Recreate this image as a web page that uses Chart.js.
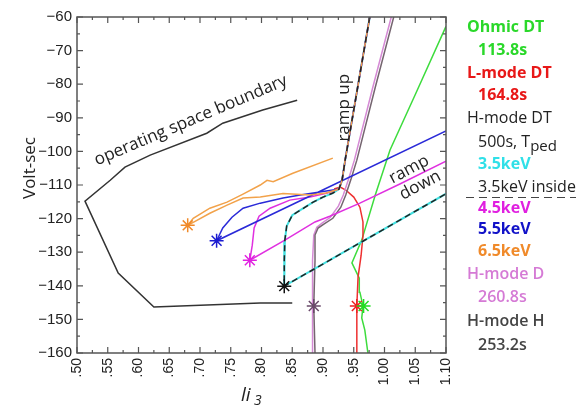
<!DOCTYPE html>
<html>
<head>
<meta charset="utf-8">
<script src="https://cdn.jsdelivr.net/npm/chart.js@4.4.0/dist/chart.umd.min.js"></script>
<style>
  html, body { margin: 0; padding: 0; background: #fff; }
  #wrap { position: relative; width: 587px; height: 405px; overflow: hidden; }
  #chart { position: absolute; left: 0; top: 0; }
  .leg { position: absolute; font-family: "Open Sans", sans-serif; font-size: 16px; line-height: 20px; white-space: nowrap; }
  .b { font-weight: 700; }
  .s { font-weight: 600; }
  .dash { padding-left: 12px; padding-bottom: 2px; background: repeating-linear-gradient(to right, #444 0 8px, transparent 8px 13px) left bottom / 100% 1.5px no-repeat; }
</style>
</head>
<body>
<div id="wrap">
  <canvas id="chart" width="587" height="405"></canvas>
  <div class="leg b" style="left:467px;top:16px;color:#2ad82a">Ohmic DT</div>
  <div class="leg b" style="left:478px;top:39px;color:#2ad82a">113.8s</div>
  <div class="leg b" style="left:467px;top:62px;color:#e81818">L-mode DT</div>
  <div class="leg b" style="left:478px;top:84px;color:#e81818">164.8s</div>
  <div class="leg" style="left:467px;top:107px;color:#222">H-mode DT</div>
  <div class="leg" style="left:478px;top:131px;color:#222">500s, T<span style="font-size:15px;position:relative;top:4px">ped</span></div>
  <div class="leg b" style="left:478px;top:153px;color:#30e0e8">3.5keV</div>
  <div class="leg dash" style="left:466px;top:176px;color:#222">3.5keV inside</div>
  <div class="leg b" style="left:478px;top:197px;color:#e020e0">4.5keV</div>
  <div class="leg b" style="left:478px;top:218px;color:#1212c8">5.5keV</div>
  <div class="leg b" style="left:478px;top:240px;color:#f08a2a">6.5keV</div>
  <div class="leg s" style="left:467px;top:263px;color:#d57ad5">H-mode D</div>
  <div class="leg s" style="left:478px;top:286px;color:#d57ad5">260.8s</div>
  <div class="leg s" style="left:467px;top:310px;color:#444">H-mode H</div>
  <div class="leg s" style="left:478px;top:334px;color:#444">253.2s</div>
</div>
<script>
const xTickLabels = [".50", ".55", ".60", ".65", ".70", ".75", ".80", ".85", ".90", ".95", "1.00", "1.05", "1.10"];
const yTickLabels = ["\u2212160", "\u2212150", "\u2212140", "\u2212130", "\u2212120", "\u2212110", "\u2212100", "\u221290", "\u221280", "\u221270", "\u221260"];

// operating space boundary
const boundaryX = [0.858, 0.802, 0.737, 0.711, 0.619, 0.578, 0.554, 0.513, 0.567, 0.625, 0.798, 0.850];
const boundaryY = [-84.8, -87.7, -91.6, -94.6, -101.1, -104.7, -108.6, -114.8, -136.2, -146.3, -145.1, -145.1];

// Ohmic DT
const ohmicX = [0.973, 0.968, 0.963, 0.965, 0.960, 0.959, 0.947, 0.963, 0.985, 1.009, 1.051, 1.100];
const ohmicY = [-160, -153.2, -149.6, -146.0, -141.9, -137.7, -133.2, -126.4, -113.0, -99.6, -82.7, -62.8];

// L-mode DT
const lmodeX = [0.954, 0.955, 0.957, 0.962, 0.965, 0.965, 0.960, 0.950, 0.937, 0.928, 0.918];
const lmodeY = [-160, -146.0, -137.4, -130.9, -125.0, -121.0, -116.6, -113.6, -111.5, -110.6, -111.2];

// H-mode H and H-mode D
const hmodeHX = [0.887, 0.885, 0.887, 0.887, 0.892, 0.902, 0.916, 0.929, 0.937, 0.946, 0.955, 0.985, 1.015];
const hmodeHY = [-160, -146.0, -132.4, -124.9, -122.8, -121.6, -119.9, -116.6, -113.0, -108.0, -102.6, -80.9, -60];
const hmodeDX = [0.883, 0.883, 0.883, 0.885, 0.890, 0.899, 0.912, 0.925, 0.933, 0.942, 0.951, 0.981, 1.011];
const hmodeDY = [-160, -146.0, -132.4, -124.9, -122.6, -121.3, -119.6, -116.3, -113.0, -108.0, -102.6, -80.9, -60];

// H-mode DT, common ramp up
const rampUpX = [0.976, 0.936, 0.931, 0.926];
const rampUpY = [-60, -102.6, -108.6, -111.2];

// Tped 3.5keV (flattop to star, then ramp down)
const t35X = [0.916, 0.900, 0.884, 0.863, 0.850, 0.841, 0.838, 0.837, 0.837];
const t35Y = [-112.4, -113.6, -115.1, -117.5, -119.0, -122.2, -126.4, -132.4, -140.1];
const t35DownX = [1.100];
const t35DownY = [-112.6];

// 4.5keV
const t45X = [0.907, 0.879, 0.846, 0.814, 0.796, 0.788, 0.785, 0.781];
const t45Y = [-112.4, -113.6, -114.5, -116.9, -119.3, -122.8, -127.9, -132.4];
const t45DownX = [0.838, 0.887, 0.911, 0.960, 1.025, 1.100];
const t45DownY = [-126.4, -121.0, -119.3, -115.4, -109.7, -102.9];

// 5.5keV
const t55X = [0.916, 0.863, 0.835, 0.798, 0.770, 0.752, 0.737, 0.727];
const t55Y = [-111.5, -113.0, -113.9, -115.4, -116.9, -119.6, -122.8, -126.6];
const t55DownX = [1.100];
const t55DownY = [-93.9];

// 6.5keV
const t65X = [0.905, 0.879, 0.835, 0.798, 0.770, 0.744, 0.716, 0.689, 0.680];
const t65Y = [-112.4, -113.0, -112.5, -113.6, -113.9, -116.0, -118.4, -121.1, -122.0];
const t65DownX = [0.689, 0.716, 0.744, 0.770, 0.798, 0.809, 0.819, 0.851, 0.916];
const t65DownY = [-119.9, -116.9, -115.1, -112.7, -110.0, -108.6, -109.0, -106.5, -102.0];

// start of flattop markers
const starX = [0.680, 0.727, 0.781, 0.837, 0.885, 0.955, 0.966];
const starY = [-122.0, -126.6, -132.4, -140.1, -146.0, -146.0, -146.0];
const starColors = ["#f08a2a", "#1a1ad0", "#e020e0", "#111111", "#6a4a6a", "#ee2020", "#22dd22"];

const toPoints = (xs, ys) => xs.map((x, i) => ({ x: x, y: ys[i] }));

const line = (xs, ys, color, width = 1.5) => ({
    data: toPoints(xs, ys),
    showLine: true,
    borderColor: color,
    borderWidth: width,
    pointRadius: 0,
    tension: 0,
});

const hmode = (xs, ys, downX, downY) => [
    ...toPoints(rampUpX, rampUpY),
    ...toPoints(xs, ys),
    ...toPoints(downX, downY),
];

const datasets = [
    line(boundaryX, boundaryY, "#333333"),
    line(ohmicX, ohmicY, "#3ddc3d"),
    line(lmodeX, lmodeY, "#ee3030"),
    line(hmodeDX, hmodeDY, "#d58ad5"),
    line(hmodeHX, hmodeHY, "#756570"),
    { ...line([], [], "#40e0e0", 2), data: hmode(t35X, t35Y, t35DownX, t35DownY) },
    { ...line([], [], "#e030e0"), data: hmode(t45X, t45Y, t45DownX, t45DownY) },
    { ...line([], [], "#2a2ad8"), data: hmode(t55X, t55Y, t55DownX, t55DownY) },
    { ...line([], [], "#f2a24a"), data: hmode(t65X, t65Y, t65DownX, t65DownY) },
    { ...line([], [], "#222222"), data: hmode(t35X, t35Y, t35DownX, t35DownY), borderDash: [6, 4] },
    {
        data: toPoints(starX, starY),
        showLine: false,
        pointStyle: "star",
        pointRadius: 7,
        pointBorderWidth: 1.5,
        pointBorderColor: starColors,
        pointBackgroundColor: starColors,
    },
];
datasets.forEach((d, i) => { d.order = datasets.length - i; });

const frame = {
    id: "frame",
    afterDatasetsDraw(chart) {
        const { ctx, chartArea: a, scales: { x, y } } = chart;
        ctx.save();
        ctx.strokeStyle = "#555";
        ctx.lineWidth = 1.5;
        ctx.strokeRect(a.left, a.top, a.right - a.left, a.bottom - a.top);
        ctx.lineWidth = 1.2;
        ctx.beginPath();
        x.ticks.forEach((t, i) => {
            const px = x.getPixelForValue(t.value);
            ctx.moveTo(px, a.bottom); ctx.lineTo(px, a.bottom - 6);
            ctx.moveTo(px, a.top); ctx.lineTo(px, a.top + 6);
            if (i < x.ticks.length - 1) {
                const pm = x.getPixelForValue(t.value + 0.025);
                ctx.moveTo(pm, a.bottom); ctx.lineTo(pm, a.bottom - 3);
                ctx.moveTo(pm, a.top); ctx.lineTo(pm, a.top + 3);
            }
        });
        y.ticks.forEach((t, i) => {
            const py = y.getPixelForValue(t.value);
            ctx.moveTo(a.left, py); ctx.lineTo(a.left + 6, py);
            ctx.moveTo(a.right, py); ctx.lineTo(a.right - 6, py);
            if (i < y.ticks.length - 1) {
                const pm = y.getPixelForValue(t.value + 5);
                ctx.moveTo(a.left, pm); ctx.lineTo(a.left + 3, pm);
                ctx.moveTo(a.right, pm); ctx.lineTo(a.right - 3, pm);
            }
        });
        ctx.stroke();

        const label = (text, xv, yv, angle) => {
            ctx.save();
            ctx.translate(x.getPixelForValue(xv), y.getPixelForValue(yv));
            ctx.rotate(angle * Math.PI / 180);
            ctx.fillText(text, 0, 0);
            ctx.restore();
        };
        ctx.fillStyle = "#222";
        ctx.font = "17px 'Open Sans'";
        ctx.textAlign = "center";
        ctx.textBaseline = "middle";
        label("operating space boundary", 0.685, -90.8, -23);
        label("ramp up", 0.934, -87.0, -90);
        label("ramp", 1.040, -105.4, -28);
        label("down", 1.058, -110.1, -28);

        // axis titles
        ctx.font = "17px 'Open Sans'";
        ctx.save();
        ctx.translate(30, 168);
        ctx.rotate(-Math.PI / 2);
        ctx.fillText("Volt-sec", 0, 0);
        ctx.restore();
        ctx.textAlign = "left";
        ctx.textBaseline = "alphabetic";
        ctx.font = "italic 19px 'Open Sans'";
        ctx.fillText("li", 241, 401);
        ctx.font = "italic 14px 'Open Sans'";
        ctx.fillText("3", 254, 405);
        ctx.restore();
    },
};

Chart.defaults.font.family = "'Liberation Sans', Arial, sans-serif";
Chart.defaults.color = "#222";

new Chart(document.getElementById("chart"), {
    type: "scatter",
    data: { datasets: datasets },
    options: {
        responsive: false,
        animation: false,
        layout: { padding: { left: 0, top: 17, right: 141, bottom: 0 } },
        plugins: { legend: { display: false }, tooltip: { enabled: false } },
        scales: {
            x: {
                type: "linear",
                min: 0.5,
                max: 1.1,
                afterFit: (scale) => { scale.height = 52; },
                grid: { display: false, drawTicks: false },
                border: { display: false },
                ticks: {
                    stepSize: 0.05,
                    minRotation: 90,
                    maxRotation: 90,
                    padding: 5,
                    font: { size: 14 },
                    callback: (value, index) => xTickLabels[index],
                },
            },
            y: {
                type: "linear",
                min: -160,
                max: -60,
                afterFit: (scale) => { scale.width = 77; },
                grid: { display: false, drawTicks: false },
                border: { display: false },
                ticks: {
                    stepSize: 10,
                    padding: 5,
                    font: { size: 15 },
                    callback: (value, index) => yTickLabels[index],
                },
            },
        },
    },
    plugins: [frame],
});
</script>
</body>
</html>
